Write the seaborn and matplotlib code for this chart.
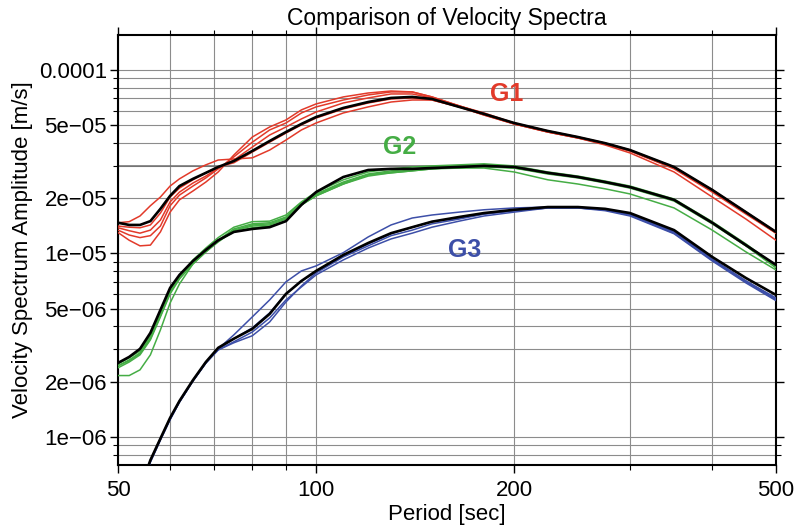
import matplotlib
matplotlib.use("Agg")
import matplotlib.pyplot as plt
import matplotlib.ticker as mticker
import numpy as np
import pandas as pd
import seaborn as sns

# ---------------- data (amplitudes in units of 1e-5 m/s) ----------------
periods = [50, 52, 54, 56, 58, 60, 62, 65, 68, 71, 75, 80, 85, 90, 95, 100, 110, 120,
           130, 140, 150, 165, 180, 200, 225, 250, 275, 300, 350, 400, 450, 500]

g1_mean = [1.47, 1.43, 1.43, 1.50, 1.75, 2.06, 2.33, 2.55, 2.75, 2.96, 3.19, 3.62, 4.10,
           4.59, 5.08, 5.54, 6.21, 6.69, 7.04, 7.13, 6.95, 6.29, 5.76, 5.14, 4.65, 4.31,
           3.99, 3.66, 2.96, 2.22, 1.68, 1.31]
g1_r1 = [1.47, 1.49, 1.60, 1.82, 2.03, 2.33, 2.55, 2.82, 3.04, 3.23, 3.27, 3.32, 3.66,
         4.15, 4.71, 5.14, 5.83, 6.29, 6.69, 6.86, 6.86, 6.29, 5.68, 5.08, 4.59, 4.26,
         3.90, 3.53, 2.78, 2.03, 1.54, 1.18]
g1_r2 = [1.41, 1.39, 1.38, 1.43, 1.66, 2.03, 2.27, 2.52, 2.75, 2.96, 3.12, 3.57, 4.04,
         4.53, 5.02, 5.47, 6.13, 6.61, 6.95, 7.04, 6.86, 6.29, 5.68, 5.08, 4.59, 4.26,
         3.95, 3.62, 2.89, 2.16, 1.64, 1.29]
g1_r3 = [1.38, 1.33, 1.29, 1.34, 1.52, 1.91, 2.16, 2.42, 2.64, 2.92, 3.23, 3.80, 4.42,
         4.89, 5.41, 5.90, 6.61, 7.04, 7.40, 7.40, 7.04, 6.37, 5.76, 5.08, 4.59, 4.26,
         3.95, 3.62, 2.92, 2.19, 1.66, 1.29]
g1_r4 = [1.34, 1.26, 1.22, 1.25, 1.41, 1.82, 2.08, 2.33, 2.58, 2.89, 3.36, 4.04, 4.71,
         5.14, 5.83, 6.29, 6.86, 7.31, 7.59, 7.59, 7.13, 6.37, 5.76, 5.14, 4.65, 4.31,
         3.99, 3.66, 2.92, 2.22, 1.68, 1.31]
g1_r5 = [1.30, 1.18, 1.10, 1.11, 1.31, 1.68, 1.96, 2.19, 2.45, 2.78, 3.44, 4.31, 4.89,
         5.34, 6.06, 6.53, 7.13, 7.49, 7.68, 7.59, 7.13, 6.37, 5.83, 5.14, 4.65, 4.31,
         3.99, 3.66, 2.96, 2.22, 1.68, 1.31]

g2_mean = [0.253, 0.273, 0.302, 0.369, 0.492, 0.649, 0.764, 0.910, 1.045, 1.18, 1.31,
           1.36, 1.39, 1.50, 1.84, 2.16, 2.61, 2.85, 2.89, 2.89, 2.92, 2.96, 3.00, 2.96,
           2.75, 2.61, 2.45, 2.30, 1.96, 1.47, 1.11, 0.866]
g2_s1 = [0.216, 0.216, 0.232, 0.280, 0.383, 0.537, 0.682, 0.877, 1.02, 1.17, 1.31, 1.38,
         1.41, 1.50, 1.84, 2.06, 2.39, 2.68, 2.75, 2.82, 2.89, 2.96, 2.96, 2.92, 2.75,
         2.61, 2.45, 2.30, 1.96, 1.47, 1.10, 0.845]
g2_s2 = [0.250, 0.270, 0.294, 0.356, 0.474, 0.633, 0.754, 0.922, 1.07, 1.22, 1.39, 1.49,
         1.50, 1.62, 1.91, 2.16, 2.52, 2.78, 2.89, 2.96, 3.00, 3.04, 3.08, 3.00, 2.78,
         2.64, 2.48, 2.33, 1.98, 1.49, 1.127, 0.855]
g2_s3 = [0.244, 0.263, 0.287, 0.347, 0.462, 0.617, 0.735, 0.899, 1.045, 1.18, 1.36, 1.45,
         1.47, 1.58, 1.89, 2.11, 2.45, 2.71, 2.82, 2.89, 2.96, 3.00, 3.04, 2.96, 2.75,
         2.61, 2.45, 2.30, 1.96, 1.47, 1.11, 0.845]
g2_s4 = [0.238, 0.256, 0.280, 0.338, 0.451, 0.602, 0.726, 0.877, 1.02, 1.155, 1.33, 1.41,
         1.43, 1.54, 1.84, 2.06, 2.39, 2.64, 2.75, 2.82, 2.89, 2.92, 3.00, 2.92, 2.71,
         2.58, 2.42, 2.27, 1.93, 1.45, 1.10, 0.834]
g2_s5 = [0.244, 0.260, 0.284, 0.343, 0.457, 0.610, 0.735, 0.887, 1.03, 1.17, 1.34, 1.43,
         1.45, 1.56, 1.86, 2.08, 2.42, 2.68, 2.78, 2.85, 2.92, 2.92, 2.92, 2.78, 2.52,
         2.39, 2.25, 2.11, 1.77, 1.34, 1.02, 0.813]

periods_g3 = periods[2:]
g3_mean = [0.0518, 0.0747, 0.098, 0.127, 0.157, 0.204, 0.256, 0.306, 0.343, 0.388, 0.468,
           0.602, 0.708, 0.803, 0.981, 1.14, 1.29, 1.39, 1.49, 1.58, 1.66, 1.73, 1.79,
           1.79, 1.75, 1.66, 1.34, 0.957, 0.735, 0.594]
g3_b1 = [0.0518, 0.0747, 0.098, 0.127, 0.157, 0.204, 0.256, 0.302, 0.360, 0.451, 0.558,
         0.700, 0.803, 0.855, 1.01, 1.23, 1.43, 1.56, 1.62, 1.68, 1.73, 1.77, 1.79,
         1.79, 1.73, 1.64, 1.31, 0.933, 0.708, 0.572]
g3_b2 = [0.051, 0.0737, 0.097, 0.125, 0.155, 0.202, 0.253, 0.298, 0.330, 0.373, 0.445,
         0.558, 0.657, 0.764, 0.922, 1.07, 1.20, 1.29, 1.39, 1.50, 1.60, 1.68, 1.77,
         1.77, 1.71, 1.60, 1.28, 0.910, 0.691, 0.553]
g3_b3 = [0.0505, 0.0728, 0.096, 0.124, 0.155, 0.202, 0.253, 0.302, 0.343, 0.393, 0.474,
         0.602, 0.708, 0.793, 0.969, 1.127, 1.28, 1.39, 1.49, 1.56, 1.64, 1.71, 1.77,
         1.77, 1.73, 1.62, 1.31, 0.922, 0.708, 0.565]
g3_b4 = [0.051, 0.0737, 0.097, 0.125, 0.155, 0.202, 0.253, 0.298, 0.326, 0.356, 0.423,
         0.544, 0.665, 0.783, 0.957, 1.10, 1.25, 1.34, 1.45, 1.54, 1.64, 1.71, 1.77,
         1.77, 1.73, 1.62, 1.29, 0.922, 0.700, 0.558]

group_labels = ["G1", "G2", "G3"]
group_colors = ["#e23a2a", "#45ad45", "#3d4fa8"]
label_pos_period = [195, 134, 168]
label_pos_amp = [7.4e-5, 3.8e-5, 1.04e-5]

yticks_major = [1e-6, 2e-6, 5e-6, 1e-5, 2e-5, 5e-5, 1e-4]
ytick_labels = ["1e\u221206", "2e\u221206", "5e\u221206", "1e\u221205", "2e\u221205",
                "5e\u221205", "0.0001"]
xticks_major = [50, 100, 200, 500]
emphasised_gridline = 3e-5

UNIT = 1e-5


def make_long(ps, curves):
    rows = []
    for name, vals in curves.items():
        for p, v in zip(ps, vals):
            rows.append({"period": p, "amp": v * UNIT, "station": name})
    return pd.DataFrame(rows)


stations = [
    make_long(periods, {"r1": g1_r1, "r2": g1_r2, "r3": g1_r3, "r4": g1_r4, "r5": g1_r5}),
    make_long(periods, {"s1": g2_s1, "s2": g2_s2, "s3": g2_s3, "s4": g2_s4, "s5": g2_s5}),
    make_long(periods_g3, {"b1": g3_b1, "b2": g3_b2, "b3": g3_b3, "b4": g3_b4}),
]
means = [
    make_long(periods, {"mean": g1_mean}),
    make_long(periods, {"mean": g2_mean}),
    make_long(periods_g3, {"mean": g3_mean}),
]

# ---------------- figure ----------------
sns.set_style("white", {"text.color": "black", "axes.labelcolor": "black",
                        "xtick.color": "black", "ytick.color": "black",
                        "xtick.bottom": True, "ytick.left": True})
plt.rcParams["font.family"] = ["Liberation Sans", "DejaVu Sans"]

fig = plt.figure(figsize=(8.0, 5.31), dpi=100)
ax = fig.add_axes([0.1475, 0.1243, 0.8225, 0.8097])
ax.set_xscale("log")
ax.set_yscale("log")

for df, col in zip(stations, group_colors):
    sns.lineplot(data=df, x="period", y="amp", units="station", estimator=None,
                 color=col, lw=1.1, ax=ax, legend=False, zorder=3)
for df in means:
    sns.lineplot(data=df, x="period", y="amp", estimator=None, color="black",
                 lw=1.9, ax=ax, legend=False, zorder=4)

for lab, col, px, py in zip(group_labels, group_colors, label_pos_period, label_pos_amp):
    ax.text(px, py, lab, color=col, fontsize=18, fontweight="bold",
            ha="center", va="center", zorder=5)

ax.set_xlim(50, 500)
ax.set_ylim(7.03e-7, 1.55e-4)

ax.xaxis.set_major_locator(mticker.FixedLocator(xticks_major))
ax.xaxis.set_major_formatter(mticker.FixedFormatter([str(v) for v in xticks_major]))
ax.xaxis.set_minor_locator(mticker.LogLocator(base=10, subs=np.arange(2, 10)))
ax.xaxis.set_minor_formatter(mticker.NullFormatter())

ax.yaxis.set_major_locator(mticker.FixedLocator(yticks_major))
ax.yaxis.set_major_formatter(mticker.FixedFormatter(ytick_labels))
ax.yaxis.set_minor_locator(mticker.LogLocator(base=10, subs=np.arange(1, 10)))
ax.yaxis.set_minor_formatter(mticker.NullFormatter())

ax.grid(which="both", color="#8c8c8c", lw=0.8)
ax.axhline(emphasised_gridline, color="#6e6e6e", lw=1.1, zorder=1)
ax.set_axisbelow(True)

ax.tick_params(which="both", direction="out", bottom=True, left=True, top=True,
               right=True, labeltop=False, labelright=False, color="black",
               labelcolor="black")
ax.tick_params(which="major", length=6, width=1.0, labelsize=16, pad=2)
ax.tick_params(which="minor", length=3.5, width=0.8)
ax.tick_params(axis="x", which="major", pad=5)

for sp in ax.spines.values():
    sp.set_color("black")
    sp.set_linewidth(1.5)

ax.set_title("Comparison of Velocity Spectra", fontsize=16.5, pad=7, color="black")
ax.set_xlabel("Period [sec]", fontsize=16, labelpad=2, color="black")
ax.set_ylabel("Velocity Spectrum Amplitude [m/s]", fontsize=16, labelpad=4, color="black")

fig.savefig("out.png", dpi=100)
